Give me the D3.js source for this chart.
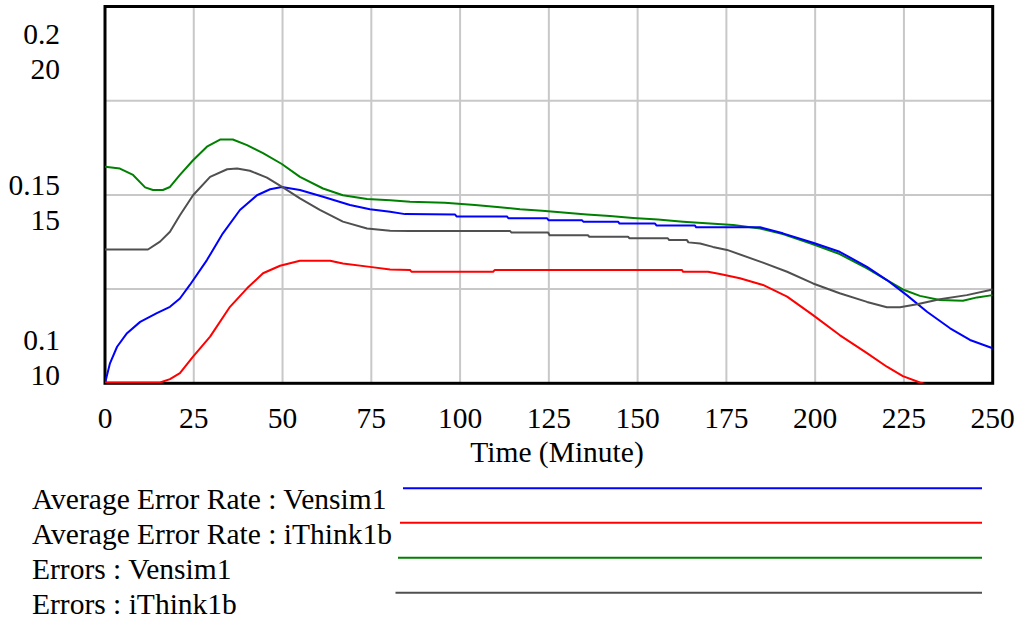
<!DOCTYPE html>
<html>
<head>
<meta charset="utf-8">
<script src="https://cdn.jsdelivr.net/npm/d3@7"></script>
<style>
  html, body { margin: 0; padding: 0; background: #fff; }
  svg { display: block; }
</style>
</head>
<body>
<svg id="chart" width="1018" height="620" font-family="'Liberation Serif', 'DejaVu Serif', serif"></svg>
<script>
// Time axis ticks (minutes) and left-axis tick values
const timeTicks = [0, 25, 50, 75, 100, 125, 150, 175, 200, 225, 250];
const rateTicks = [0.1, 0.15, 0.2];
const errorTicks = [10, 15, 20];

// Average Error Rate : Vensim1  [minute, rate]
const rateVensim = [
  [0, 0.1000], [1.4, 0.1053], [3.4, 0.1097], [6.2, 0.1133], [9.9, 0.1163],
  [14.6, 0.1186], [18.3, 0.1203], [21.1, 0.1225], [23.9, 0.1261], [28.7, 0.1327],
  [33.2, 0.1398], [38.0, 0.1460], [42.8, 0.1499], [46.5, 0.1515], [49.8, 0.1521],
  [54.9, 0.1513], [61.4, 0.1495], [69.0, 0.1473], [74.6, 0.1462], [80.3, 0.1455],
  [84.5, 0.1449], [98.6, 0.1448], [99, 0.1443], [113.2, 0.1443], [113.6, 0.1438],
  [124.5, 0.1438], [124.9, 0.1433], [134.3, 0.1433], [134.7, 0.1429], [144.5, 0.1429],
  [144.9, 0.1424], [154.9, 0.1424], [155.3, 0.1419], [166.1, 0.1419], [166.5, 0.1414],
  [184.5, 0.1414], [190.9, 0.1398], [199.4, 0.1373], [206.9, 0.1349], [214.6, 0.1309],
  [220.2, 0.1274], [225.8, 0.1234], [231.5, 0.1190], [238.0, 0.1146], [243.6, 0.1115],
  [250, 0.1093]
];

// Average Error Rate : iThink1b  [minute, rate]
const rateIThink = [
  [0, 0.1002], [15.5, 0.1002], [18.3, 0.1011], [21.1, 0.1027], [24.8, 0.1071],
  [29.6, 0.1124], [35.2, 0.1203], [40.0, 0.1252], [44.5, 0.1292], [49.3, 0.1312],
  [54.9, 0.1325], [63.4, 0.1325], [67.0, 0.1318], [74.6, 0.1309], [80.3, 0.1302],
  [85.9, 0.1301], [86.3, 0.1296], [109.3, 0.1296], [109.8, 0.1301], [162.5, 0.1301],
  [162.8, 0.1296], [169.8, 0.1296], [173.2, 0.1290], [178.8, 0.1279], [185.3, 0.1261],
  [192.1, 0.1230], [199.4, 0.1181], [206.9, 0.1128], [214.6, 0.1080], [220.2, 0.1044],
  [224.7, 0.1019], [229.5, 0.1002], [232, 0.0995]
];

// Errors : Vensim1  [minute, errors]
const errorsVensim = [
  [0, 15.75], [4.2, 15.70], [7.9, 15.53], [11.3, 15.20], [13.5, 15.13],
  [16.3, 15.13], [18.3, 15.21], [21.1, 15.53], [24.8, 15.92], [28.7, 16.28],
  [32.4, 16.47], [36.0, 16.47], [40.0, 16.32], [44.5, 16.11], [49.8, 15.82],
  [54.9, 15.48], [61.4, 15.17], [67.0, 14.99], [73.8, 14.89], [80.3, 14.86],
  [85.9, 14.82], [95.7, 14.79], [104.2, 14.73], [111.2, 14.67], [116.9, 14.62],
  [123.1, 14.58], [129.0, 14.53], [135.7, 14.48], [142.2, 14.44], [148.7, 14.39],
  [155.7, 14.35], [162.8, 14.29], [170.4, 14.24], [176.9, 14.20], [184.5, 14.11],
  [190.9, 13.96], [199.4, 13.69], [206.9, 13.43], [214.6, 13.05], [220.2, 12.74],
  [224.7, 12.49], [229.5, 12.32], [235.1, 12.21], [241.6, 12.19], [245.6, 12.28],
  [250, 12.34]
];

// Errors : iThink1b  [minute, errors]
const errorsIThink = [
  [0, 13.55], [12.1, 13.55], [15.5, 13.76], [18.3, 14.02], [21.1, 14.46],
  [24.8, 14.99], [29.6, 15.48], [34.4, 15.68], [37.2, 15.70], [40.8, 15.64],
  [45.6, 15.46], [50.1, 15.20], [54.9, 14.91], [60.5, 14.60], [67.0, 14.29],
  [73.8, 14.11], [80.3, 14.05], [85.9, 14.04], [114.1, 14.04], [114.5, 14.00],
  [124.8, 14.00], [125.2, 13.93], [136.0, 13.93], [136.4, 13.89], [147.3, 13.89],
  [147.7, 13.85], [158.5, 13.85], [158.9, 13.80], [163.9, 13.80], [164.3, 13.74],
  [167.6, 13.71], [171.2, 13.62], [175.2, 13.54], [184.5, 13.23], [192.1, 12.96],
  [199.4, 12.65], [206.9, 12.39], [214.6, 12.16], [220.2, 12.02], [223.9, 12.02],
  [228.7, 12.10], [235.1, 12.23], [242.7, 12.34], [250, 12.49]
];

const legendLabels = [
  "Average Error Rate : Vensim1",
  "Average Error Rate : iThink1b",
  "Errors : Vensim1",
  "Errors : iThink1b"
];
const seriesColors = ["#0000ff", "#ff0000", "#008000", "#505050"];

// ---- layout ----
const plot = { left: 105, right: 992.7, top: 6.5, bottom: 383.3 };
const fontSize = 29.5;
const fontFamily = "'Liberation Serif', 'DejaVu Serif', serif";

const svg = d3.select("#chart");

const x = d3.scaleLinear().domain([0, 250]).range([plot.left, plot.right]);
const yRate = d3.scaleLinear().domain([0.1, 0.2]).range([plot.bottom, plot.top]);
const yErr = d3.scaleLinear().domain([10, 20]).range([plot.bottom, plot.top]);

svg.append("defs").append("clipPath").attr("id", "plot-clip")
  .append("rect")
  .attr("x", plot.left).attr("y", plot.top)
  .attr("width", plot.right - plot.left).attr("height", plot.bottom - plot.top);

// grid
const grid = svg.append("g").attr("stroke", "#c8c8c8").attr("stroke-width", 2);
grid.selectAll("line.v").data(timeTicks.slice(1, -1)).join("line")
  .attr("class", "v")
  .attr("x1", d => x(d)).attr("x2", d => x(d))
  .attr("y1", plot.top).attr("y2", plot.bottom + 1);
grid.selectAll("line.h").data([0.125, 0.15, 0.175]).join("line")
  .attr("class", "h")
  .attr("x1", plot.left).attr("x2", plot.right + 1)
  .attr("y1", d => yRate(d)).attr("y2", d => yRate(d));

// frame
svg.append("rect")
  .attr("x", plot.left).attr("y", plot.top)
  .attr("width", plot.right - plot.left).attr("height", plot.bottom - plot.top)
  .attr("fill", "none").attr("stroke", "#000").attr("stroke-width", 3);

// series, drawn over the frame so curves riding the border stay visible
const lineRate = d3.line().x(d => x(d[0])).y(d => yRate(d[1]));
const lineErr = d3.line().x(d => x(d[0])).y(d => yErr(d[1]));

const seriesDefs = [
  { data: errorsVensim, gen: lineErr, color: seriesColors[2] },
  { data: rateVensim, gen: lineRate, color: seriesColors[0] },
  { data: rateIThink, gen: lineRate, color: seriesColors[1] },
  { data: errorsIThink, gen: lineErr, color: seriesColors[3] }
];

svg.append("g").attr("clip-path", "url(#plot-clip)")
  .selectAll("path").data(seriesDefs).join("path")
  .attr("d", s => s.gen(s.data))
  .attr("fill", "none")
  .attr("stroke", s => s.color)
  .attr("stroke-width", 2)
  .attr("stroke-linejoin", "round");

// x tick labels
svg.append("g").selectAll("text").data(timeTicks).join("text")
  .attr("x", d => x(d)).attr("y", 428)
  .attr("text-anchor", "middle")
  .attr("font-family", fontFamily)
  .attr("font-size", fontSize)
  .text(d => d);

svg.append("text")
  .attr("x", 557).attr("y", 462)
  .attr("text-anchor", "middle")
  .attr("font-family", fontFamily)
  .attr("font-size", fontSize)
  .text("Time (Minute)");

// left axis: rate label above, error count below, kept inside the plot height
const labelBase = v => Math.max(plot.top + 37, Math.min(plot.bottom - 33, yRate(v)));
const yLabels = svg.append("g")
  .attr("font-family", fontFamily)
  .attr("font-size", fontSize)
  .attr("text-anchor", "end");
yLabels.selectAll("text.rate").data(rateTicks).join("text")
  .attr("class", "rate")
  .attr("x", 60).attr("y", d => labelBase(d))
  .text(d => d3.format("")(d));
yLabels.selectAll("text.err").data(errorTicks).join("text")
  .attr("class", "err")
  .attr("x", 60).attr("y", (d, i) => labelBase(rateTicks[i]) + 35)
  .text(d => d);

// legend
const legendY = [488.3, 522.7, 557.7, 592.7];
const legendStart = [403, 400, 398, 395.5];
const legend = svg.append("g");
legend.selectAll("text").data(legendLabels).join("text")
  .attr("x", 32).attr("y", (d, i) => legendY[i] + 21)
  .attr("font-family", fontFamily)
  .attr("font-size", fontSize)
  .text(d => d);
legend.selectAll("line").data(seriesColors).join("line")
  .attr("x1", (d, i) => legendStart[i]).attr("x2", 982)
  .attr("y1", (d, i) => legendY[i]).attr("y2", (d, i) => legendY[i])
  .attr("stroke", d => d).attr("stroke-width", 2);
</script>
</body>
</html>
